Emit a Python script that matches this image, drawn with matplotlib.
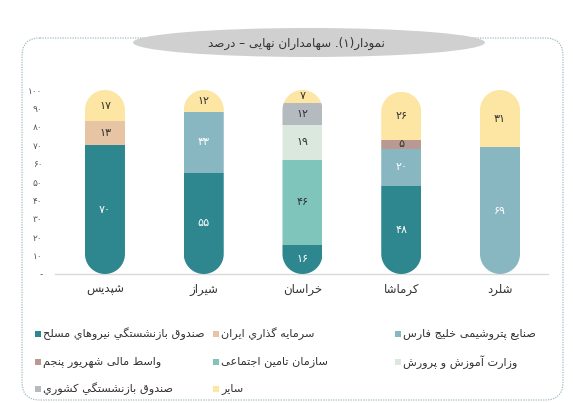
import numpy as np
import matplotlib
matplotlib.use('Agg')
import matplotlib.pyplot as plt
from matplotlib.patches import FancyBboxPatch, Ellipse, Rectangle, PathPatch
from matplotlib.path import Path

plt.rcParams['font.family'] = ['DejaVu Sans']

# ---- data ----
categories = ['شپدیس', 'شیراز', 'خراسان', 'کرماشا', 'شلرد']
series_names = [
    'صندوق بازنشستگي نيروهاي مسلح',
    'سرمایه گذاري ایران',
    'صنایع پتروشیمی خلیج فارس',
    'سازمان تامین اجتماعی',
    'وزارت آموزش و پرورش',
    'واسط مالی شهریور پنجم',
    'صندوق بازنشستگي کشوري',
    'سایر',
]
mosallah = [70, 55, 16, 48, 0]
sarmaye = [13, 0, 0, 0, 0]
petro = [0, 33, 0, 20, 69]
tamin = [0, 0, 46, 0, 0]
amoozesh = [0, 0, 19, 0, 0]
vaset = [0, 0, 0, 5, 0]
keshvari = [0, 0, 12, 0, 0]
sayer = [17, 12, 7, 26, 31]
series_values = [mosallah, sarmaye, petro, tamin, amoozesh, vaset, keshvari, sayer]
colors = ['#2e868f', '#e6c4a4', '#88b6c1', '#7fc5bc', '#dbe8de', '#b99a93', '#b5b9c0', '#fde6a4']
label_colors = ['white', '#333333', 'white', '#333333', '#333333', '#333333', '#333333', '#333333']
yticks = list(range(0, 101, 10))
title = 'نمودار(۱). سهامداران نهایی – درصد'

# legend grid (row, col) for each series
legend_pos = [(0, 0), (0, 1), (0, 2), (1, 1), (1, 2), (1, 0), (2, 0), (2, 1)]

# ---- simple persian shaping (matplotlib does no shaping) ----
dual = {'ب': 0xFE8F, 'ت': 0xFE95, 'ث': 0xFE99, 'ج': 0xFE9D, 'ح': 0xFEA1, 'خ': 0xFEA5,
        'س': 0xFEB1, 'ش': 0xFEB5, 'ص': 0xFEB9, 'ض': 0xFEBD, 'ط': 0xFEC1, 'ظ': 0xFEC5,
        'ع': 0xFEC9, 'غ': 0xFECD, 'ف': 0xFED1, 'ق': 0xFED5, 'ك': 0xFED9, 'ل': 0xFEDD,
        'م': 0xFEE1, 'ن': 0xFEE5, 'ه': 0xFEE9, 'ي': 0xFEF1, 'ئ': 0xFE89,
        'پ': 0xFB56, 'چ': 0xFB7A, 'ک': 0xFB8E, 'گ': 0xFB92, 'ی': 0xFBFC}
right = {'ا': 0xFE8D, 'آ': 0xFE81, 'أ': 0xFE83, 'إ': 0xFE87, 'ؤ': 0xFE85, 'د': 0xFEA9,
         'ذ': 0xFEAB, 'ر': 0xFEAD, 'ز': 0xFEAF, 'ژ': 0xFB8A, 'و': 0xFEED, 'ة': 0xFE93}


def shape(text):
    out = []
    for i, ch in enumerate(text):
        if ch in dual:
            base, joins_next = dual[ch], True
        elif ch in right:
            base, joins_next = right[ch], False
        else:
            out.append(ch)
            continue
        prev = text[i - 1] if i > 0 else ''
        nxt = text[i + 1] if i + 1 < len(text) else ''
        p = prev in dual
        n = joins_next and (nxt in dual or nxt in right)
        if p and n:
            code = base + 3
        elif n:
            code = base + 2
        elif p:
            code = base + 1
        else:
            code = base
        out.append(chr(code))
    vis = ''.join(out)[::-1]
    return vis.translate(str.maketrans('()', ')('))


def fa(n):
    return str(n).translate(str.maketrans('0123456789', '۰۱۲۳۴۵۶۷۸۹'))


# ---- figure ----
W, H = 573, 403
fig = plt.figure(figsize=(W / 100, H / 100), dpi=100)
fig.patch.set_facecolor('white')

bg = fig.add_axes([0, 0, 1, 1], zorder=0)
bg.set_xlim(0, W)
bg.set_ylim(H, 0)
bg.axis('off')

card = FancyBboxPatch((22, 38), 541, 362, boxstyle='round,pad=0,rounding_size=18',
                      facecolor='none', edgecolor='#9fbcc4', lw=0.9, linestyle=(0, (1, 1)))
bg.add_patch(card)
bg.add_patch(Ellipse((309, 42.5), 352, 29, facecolor='#d0d0d0', edgecolor='none'))
bg.text(296, 43, shape(title), ha='center', va='center', fontsize=8.6, color='#333333')

# legend
col_x = [35, 213, 395]
row_y = [334, 362, 389]
for name, c, (r, k) in zip(series_names, colors, legend_pos):
    bg.add_patch(Rectangle((col_x[k], row_y[r] - 3), 6, 6, facecolor=c, edgecolor='none'))
    bg.text(col_x[k] + 8, row_y[r], shape(name), ha='left', va='center',
            fontsize=8.1, color='#333333')

# main axes
y0_px, y100_px, top_px = 274, 90, 84
ytop = 100 * (y0_px - top_px) / (y0_px - y100_px)
ax = fig.add_axes([55 / W, (H - y0_px) / H, (548 - 55) / W, (y0_px - top_px) / H], zorder=1)
ax.patch.set_visible(False)
ax.set_xlim(-0.506, 4.486)
ax.set_ylim(0, ytop)

x = np.arange(len(categories))
width = 0.405
bottom = np.zeros(len(categories))
containers = []
for vals, c, lc in zip(series_values, colors, label_colors):
    vals = np.array(vals, dtype=float)
    bars = ax.bar(x, vals, width, bottom=bottom, color=c, edgecolor='none', zorder=2)
    containers.append(bars)
    for xi, b, v in zip(x, bottom, vals):
        if v > 0:
            ax.text(xi, b + v / 2, fa(int(v)), ha='center', va='center',
                    fontsize=8, color=lc, zorder=3)
    bottom = bottom + vals

# pill shaped clipping for each stacked bar
p0 = ax.transData.transform((0, 0))
px_x = ax.transData.transform((1, 0))[0] - p0[0]
px_y = ax.transData.transform((0, 1))[1] - p0[1]
rx = width / 2
ry = rx * px_x / px_y
t = np.linspace(0, np.pi, 40)
for i, total in enumerate(bottom):
    top_arc = np.column_stack([x[i] + rx * np.cos(t), total - ry + ry * np.sin(t)])
    bot_arc = np.column_stack([x[i] - rx * np.cos(t), ry - ry * np.sin(t)])
    verts = np.vstack([top_arc, bot_arc, top_arc[:1]])
    clip = PathPatch(Path(verts), transform=ax.transData, facecolor='none', edgecolor='none')
    ax.add_patch(clip)
    for bars in containers:
        bars[i].set_clip_path(clip)

for s in ['top', 'right', 'left']:
    ax.spines[s].set_visible(False)
ax.spines['bottom'].set_color('#d9d9d9')
ax.spines['bottom'].set_linewidth(1)
ax.spines['bottom'].set_zorder(1)

ax.set_yticks(yticks)
ax.set_yticklabels(['-'] + [fa(v) for v in yticks[1:]])
ax.set_xticks(x)
ax.set_xticklabels([shape(c) for c in categories])
ax.tick_params(axis='y', length=0, pad=9, labelsize=6.5, labelcolor='#555555')
ax.tick_params(axis='x', length=0, pad=6.5, labelsize=8.5, labelcolor='#333333')

fig.savefig('out.png', dpi=100)
